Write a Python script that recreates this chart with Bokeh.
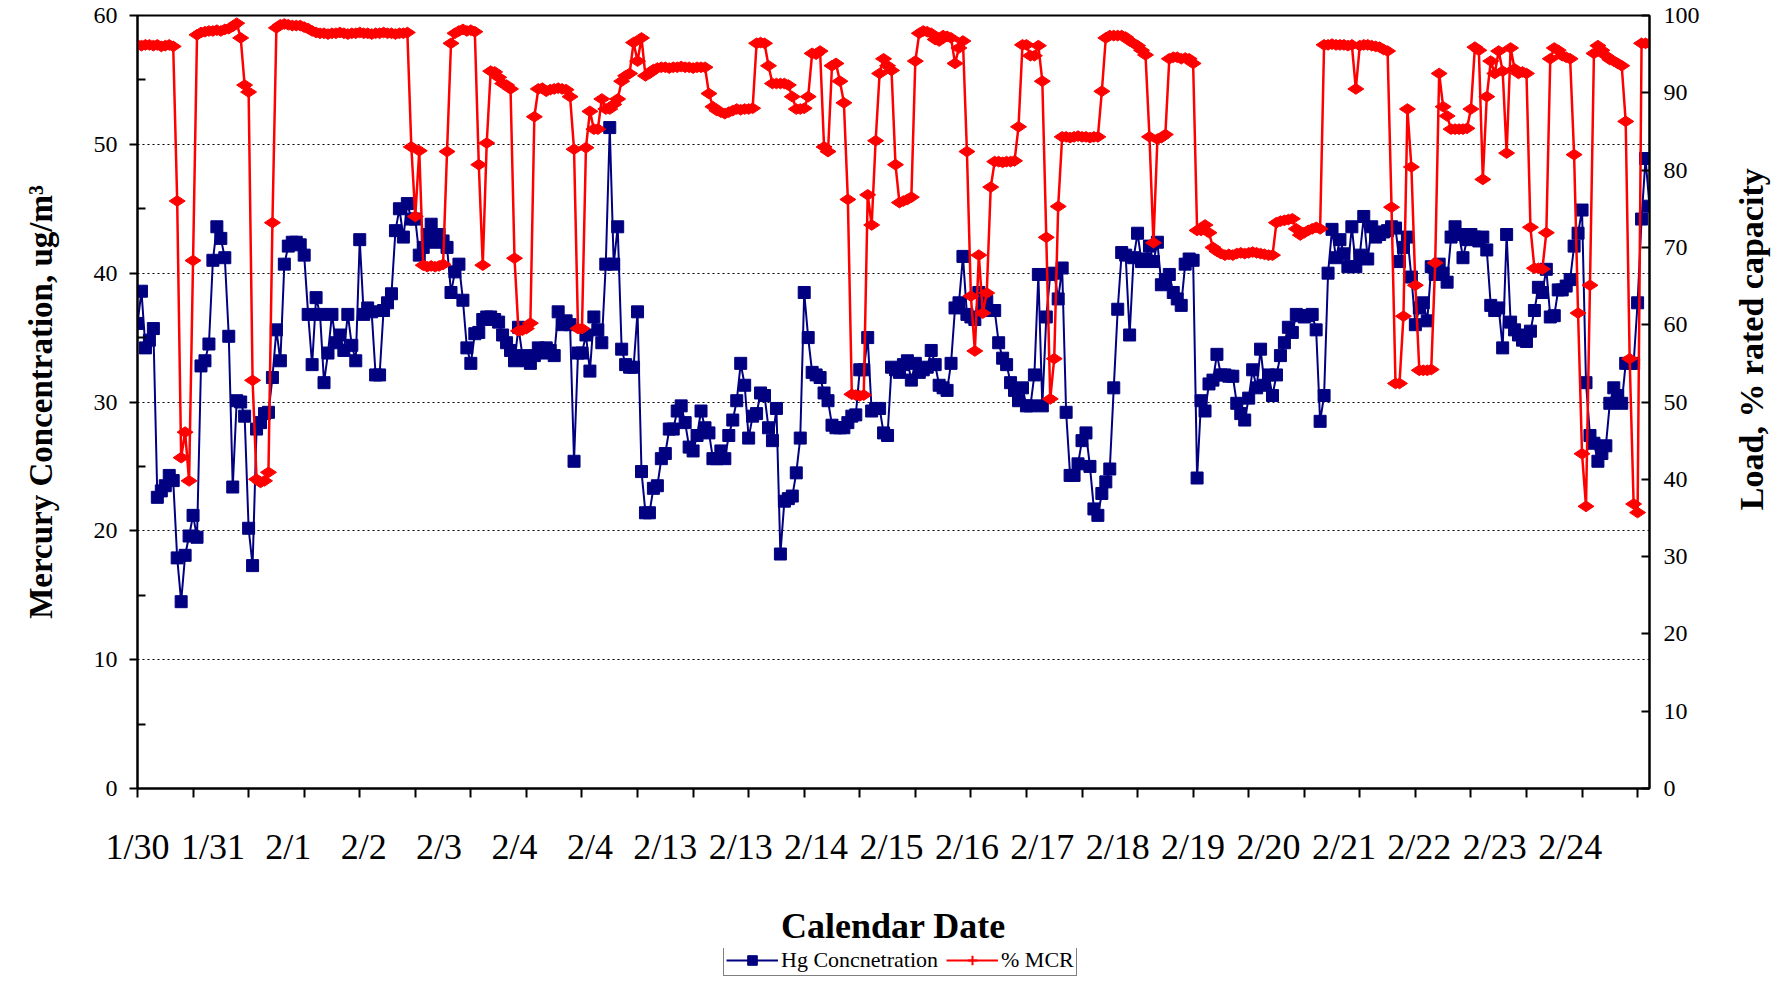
import numpy as np
from bokeh.plotting import figure
from bokeh.layouts import column, row
from bokeh.models import (Range1d, LinearAxis, FixedTicker, Legend, LegendItem,
                          ColumnDataSource, Grid, Label)
from bokeh.embed import file_html
from bokeh.resources import INLINE

date_labels = ["1/30", "1/31", "2/1", "2/2", "2/3", "2/4", "2/4", "2/13", "2/13", "2/14",
               "2/15", "2/16", "2/17", "2/18", "2/19", "2/20", "2/21", "2/22", "2/23", "2/24"]

hg = [
    36.1, 38.6, 34.2, 34.8, 35.7, 22.6, 23.1, 23.5, 24.3, 23.9,
    17.9, 14.5, 18.1, 19.6, 21.2, 19.5, 32.8, 33.2, 34.5, 41.0,
    43.6, 42.7, 41.2, 35.1, 23.4, 30.1, 30.0, 28.9, 20.2, 17.3,
    27.9, 28.4, 29.1, 29.2, 31.9, 35.6, 33.2, 40.7, 42.1, 42.4,
    42.4, 42.2, 41.4, 36.8, 32.9, 38.1, 36.8, 31.5, 33.8, 36.8,
    34.6, 35.2, 34.0, 36.8, 34.4, 33.2, 42.6, 36.8, 37.3, 37.0,
    32.1, 32.1, 37.1, 37.7, 38.4, 43.3, 45.0, 42.8, 45.4, 44.2,
    44.2, 41.4, 42.0, 43.0, 43.8, 42.4, 43.0, 42.5, 42.0, 38.5,
    40.1, 40.7, 37.9, 34.2, 33.0, 35.3, 35.4, 36.4, 36.6, 36.6,
    36.4, 36.2, 35.2, 34.6, 34.0, 33.2, 35.8, 33.6, 33.2, 33.0,
    33.6, 34.2, 33.8, 34.2, 34.0, 33.6, 37.0, 36.0, 36.3, 36.0,
    25.4, 33.8, 33.8, 35.2, 32.4, 36.6, 35.6, 34.6, 40.7, 51.3,
    40.7, 43.6, 34.1, 32.9, 32.7, 32.7, 37.0, 24.6, 21.4, 21.4,
    23.3, 23.5, 25.6, 26.0, 27.9, 27.9, 29.3, 29.7, 28.4, 26.5,
    26.2, 27.4, 29.3, 28.0, 27.6, 25.6, 25.6, 26.2, 25.6, 27.4,
    28.6, 30.1, 33.0, 31.3, 27.2, 28.9, 29.1, 30.7, 30.5, 28.0,
    27.0, 29.5, 18.2, 22.3, 22.5, 22.7, 24.5, 27.2, 38.5, 35.0,
    32.3, 32.1, 31.9, 30.7, 30.1, 28.2, 28.0, 28.0, 28.0, 28.4,
    28.9, 29.0, 32.5, 32.5, 35.0, 29.3, 29.5, 29.5, 27.6, 27.4,
    32.7, 32.5, 32.3, 32.9, 33.2, 31.7, 33.0, 32.3, 32.5, 32.7,
    34.0, 32.9, 31.3, 31.1, 30.9, 33.0, 37.3, 37.7, 41.3, 36.8,
    36.6, 36.4, 38.5, 37.5, 37.8, 37.1, 37.1, 34.6, 33.4, 32.9,
    31.5, 30.9, 30.1, 31.1, 29.7, 29.7, 32.1, 39.9, 29.7, 36.6,
    39.9, 40.0, 38.0, 40.4, 29.2, 24.3, 24.3, 25.2, 27.0, 27.6,
    25.0, 21.7, 21.2, 22.9, 23.8, 24.8, 31.1, 37.2, 41.6, 41.4,
    35.2, 41.2, 43.1, 40.9, 41.1, 42.1, 40.9, 42.4, 39.1, 39.5,
    39.9, 38.5, 38.0, 37.5, 40.7, 41.1, 41.0, 24.1, 30.1, 29.3,
    31.4, 31.7, 33.7, 32.1, 32.1, 32.0, 32.0, 29.9, 29.1, 28.6,
    30.3, 32.5, 31.1, 34.1, 31.3, 32.1, 30.5, 32.1, 33.6, 34.6,
    35.8, 35.4, 36.8, 36.7, 36.6, 36.7, 36.8, 35.6, 28.5, 30.5,
    40.0, 43.4, 41.2, 42.6, 41.5, 40.5, 43.6, 40.5, 41.4, 44.4,
    41.1, 43.6, 42.8, 43.0, 43.2, 43.3, 43.6, 43.5, 40.9, 42.0,
    42.8, 39.7, 36.0, 37.3, 37.7, 36.3, 40.5, 39.9, 40.7, 40.0,
    39.3, 42.8, 43.6, 43.0, 41.2, 42.6, 43.0, 42.8, 42.5, 42.8,
    41.8, 37.5, 37.1, 37.3, 34.2, 43.0, 36.2, 35.6, 35.2, 34.8,
    34.7, 35.5, 37.1, 38.9, 38.5, 40.3, 36.6, 36.7, 38.7, 38.7,
    39.0, 39.5, 42.1, 43.1, 44.9, 31.5, 27.4, 26.8, 25.4, 26.0,
    26.6, 29.9, 31.1, 30.5, 29.9, 33.0, 33.0, 33.0, 37.7, 44.2,
    48.9, 45.2,
]

mcr = [
    96.2, 96.1, 96.2, 96.2, 96.1, 96.2, 96.0, 96.1, 96.2, 96.0,
    76.0, 42.8, 46.1, 39.8, 68.3, 97.5, 97.8, 97.9, 98.0, 98.0,
    98.1, 98.0, 98.2, 98.3, 98.6, 99.0, 97.1, 91.0, 90.1, 52.8,
    40.0, 39.6, 39.8, 40.9, 73.2, 98.4, 98.8, 98.9, 98.8, 98.7,
    98.7, 98.7, 98.5, 98.3, 98.0, 97.8, 97.7, 97.7, 97.6, 97.7,
    97.7, 97.8, 97.7, 97.6, 97.7, 97.7, 97.8, 97.7, 97.7, 97.6,
    97.7, 97.7, 97.8, 97.7, 97.7, 97.6, 97.7, 97.7, 97.8, 83.0,
    74.0, 82.5, 67.7, 67.5, 67.6, 67.5, 67.6, 67.8, 82.4, 96.4,
    97.7, 98.0, 98.2, 98.0, 98.1, 97.9, 80.7, 67.7, 83.5, 92.8,
    92.7, 92.0, 91.2, 91.0, 90.5, 68.6, 59.2, 59.3, 59.5, 60.2,
    86.9, 90.5, 90.6, 90.2, 90.4, 90.5, 90.6, 90.5, 90.4, 89.5,
    82.7, 59.5, 59.5, 82.9, 87.6, 85.3, 85.3, 89.2, 87.9, 87.9,
    88.5, 89.2, 91.5, 92.2, 92.5, 96.5, 94.1, 97.1, 92.2, 92.5,
    93.0, 93.2, 93.3, 93.3, 93.2, 93.3, 93.3, 93.4, 93.3, 93.3,
    93.2, 93.3, 93.3, 93.3, 89.9, 88.2, 87.7, 87.5, 87.3, 87.5,
    87.7, 87.9, 87.8, 87.9, 87.9, 88.0, 96.4, 96.5, 96.4, 93.5,
    91.2, 91.2, 91.2, 91.2, 91.0, 89.5, 87.9, 87.9, 88.0, 89.5,
    95.1, 95.0, 95.4, 83.0, 82.4, 93.5, 93.8, 91.5, 88.7, 76.2,
    51.0, 50.9, 50.8, 50.9, 76.8, 72.9, 83.8, 92.5, 94.4, 93.5,
    92.9, 80.7, 75.8, 76.0, 76.2, 76.5, 94.1, 97.7, 98.0, 97.9,
    97.7, 96.9, 96.7, 97.4, 97.3, 97.1, 93.8, 95.8, 96.7, 82.4,
    63.7, 56.6, 69.0, 61.5, 64.1, 77.8, 81.1, 81.1, 81.0, 81.1,
    81.1, 81.2, 85.6, 96.2, 96.2, 94.8, 94.8, 96.1, 91.5, 71.3,
    50.4, 55.6, 75.3, 84.3, 84.3, 84.2, 84.3, 84.4, 84.3, 84.3,
    84.2, 84.3, 84.3, 90.2, 97.1, 97.4, 97.4, 97.4, 97.4, 97.2,
    96.7, 96.4, 96.1, 95.5, 94.9, 84.3, 70.6, 84.0, 84.2, 84.6,
    94.4, 94.6, 94.6, 94.4, 94.5, 94.4, 93.8, 72.2, 72.2, 72.9,
    71.9, 70.0, 69.5, 69.2, 69.0, 69.1, 69.0, 69.2, 69.3, 69.2,
    69.3, 69.4, 69.3, 69.2, 69.1, 69.0, 69.0, 73.2, 73.4, 73.5,
    73.6, 73.7, 72.4, 71.6, 71.9, 72.2, 72.4, 72.6, 72.4, 96.2,
    96.2, 96.3, 96.2, 96.2, 96.2, 96.1, 96.2, 90.5, 96.1, 96.2,
    96.2, 96.1, 96.0, 95.9, 95.6, 95.4, 75.2, 52.4, 52.4, 61.1,
    87.9, 80.4, 65.1, 54.1, 54.1, 54.1, 54.2, 68.0, 92.5, 88.2,
    87.0, 85.3, 85.3, 85.3, 85.3, 85.4, 87.9, 95.9, 95.5, 78.8,
    89.5, 94.1, 92.5, 95.4, 92.8, 82.2, 95.8, 93.1, 92.5, 92.7,
    92.5, 72.6, 67.3, 67.3, 67.2, 71.9, 94.4, 95.8, 95.5, 94.8,
    94.6, 94.4, 82.0, 61.5, 43.3, 36.5, 65.1, 95.1, 96.1, 95.5,
    94.8, 94.3, 94.1, 93.8, 93.5, 86.3, 55.6, 36.8, 35.7, 96.4,
    96.4, 96.4,
]

n = len(hg)
xs = list(range(n))
LABEL_STEP = 19
TICK_STEP = 14
label_pos = [LABEL_STEP * k for k in range(len(date_labels))]
tick_pos = list(range(0, n, TICK_STEP))

FONT = "Liberation Serif"
NAVY = "#000080"
RED = "#FF0000"

TOTAL_W, TOTAL_H = 1771, 978
MAIN_W, MAIN_H = 1705, 948
SIDE_W = TOTAL_W - MAIN_W
LEG_H = TOTAL_H - MAIN_H

p = figure(width=MAIN_W, height=MAIN_H, output_backend="svg", toolbar_location=None,
           x_range=Range1d(0, n - 1), y_range=Range1d(0, 60),
           x_axis_location=None, y_axis_location=None,
           min_border_left=137, min_border_right=MAIN_W - 137 - 1512,
           min_border_top=15, min_border_bottom=MAIN_H - 15 - 774)
p.extra_y_ranges = {"load": Range1d(0, 100)}
p.outline_line_color = "black"
p.outline_line_width = 2
p.background_fill_color = "white"
for g in p.grid:
    g.visible = False

# bottom axis
xaxis = LinearAxis(ticker=FixedTicker(ticks=label_pos, minor_ticks=tick_pos))
xaxis.major_label_overrides = {pos: lab for pos, lab in zip(label_pos, date_labels)}
xaxis.major_tick_line_color = None
xaxis.major_tick_out = 0
xaxis.major_tick_in = 0
xaxis.minor_tick_line_color = "black"
xaxis.minor_tick_line_width = 2
xaxis.minor_tick_out = 9
xaxis.minor_tick_in = 0
xaxis.axis_line_width = 2
xaxis.major_label_standoff = 29
xaxis.major_label_text_font = FONT
xaxis.major_label_text_font_size = "36px"
xaxis.major_label_text_color = "black"
xaxis.axis_label = "Calendar Date"
xaxis.axis_label_text_font = FONT
xaxis.axis_label_text_font_size = "36px"
xaxis.axis_label_text_font_style = "bold"
xaxis.axis_label_text_color = "black"
xaxis.axis_label_standoff = 36
p.add_layout(xaxis, "below")

# left axis
yaxis = LinearAxis(ticker=FixedTicker(ticks=list(range(0, 61, 10)),
                                      minor_ticks=list(range(5, 60, 10))))
yaxis.major_tick_out = 8
yaxis.major_tick_in = 0
yaxis.minor_tick_in = 8
yaxis.minor_tick_out = 0
yaxis.major_tick_line_width = 2
yaxis.minor_tick_line_width = 2
yaxis.axis_line_width = 2
yaxis.major_label_standoff = 12
yaxis.major_label_text_font = FONT
yaxis.major_label_text_font_size = "24px"
yaxis.major_label_text_color = "black"
yaxis.axis_label = "Mercury Concentration, ug/m\u00b3"
yaxis.axis_label_text_font = FONT
yaxis.axis_label_text_font_size = "33px"
yaxis.axis_label_text_font_style = "bold"
yaxis.axis_label_text_color = "black"
yaxis.axis_label_standoff = 32
p.add_layout(yaxis, "left")

# right axis
raxis = LinearAxis(y_range_name="load",
                   ticker=FixedTicker(ticks=list(range(0, 101, 10)), minor_ticks=[]))
raxis.major_tick_in = 8
raxis.major_tick_out = 0
raxis.major_tick_line_width = 2
raxis.minor_tick_line_color = None
raxis.axis_line_width = 2
raxis.major_label_standoff = 14
raxis.major_label_text_font = FONT
raxis.major_label_text_font_size = "24px"
raxis.major_label_text_color = "black"
p.add_layout(raxis, "right")

grid = Grid(dimension=1, ticker=FixedTicker(ticks=[10, 20, 30, 40, 50]))
grid.grid_line_color = "black"
grid.grid_line_dash = "2 3"
grid.grid_line_width = 1
p.add_layout(grid)

src = ColumnDataSource(dict(x=xs, hg=hg, mcr=mcr))
p.line("x", "hg", source=src, line_color=NAVY, line_width=2)
p.scatter("x", "hg", source=src, marker="square", size=12,
          fill_color=NAVY, line_color=NAVY)
p.line("x", "mcr", source=src, y_range_name="load", line_color=RED, line_width=2.5)
p.scatter("x", "mcr", source=src, y_range_name="load", marker="diamond", size=16,
          angle=np.pi / 2, fill_color=RED, line_color=RED)

# right-hand title panel (reads bottom-to-top like the reference)
side = figure(width=SIDE_W, height=MAIN_H, output_backend="svg", toolbar_location=None,
              x_range=Range1d(0, SIDE_W), y_range=Range1d(0, MAIN_H),
              x_axis_location=None, y_axis_location=None, min_border=0)
side.outline_line_color = None
for g in side.grid:
    g.visible = False
side.add_layout(Label(x=46, y=MAIN_H - 397, text="Load, % rated capacity", angle=np.pi / 2,
                      text_align="center", text_baseline="middle", text_font=FONT,
                      text_font_size="34px", text_font_style="bold", text_color="black"))

# legend panel
leg = figure(width=TOTAL_W, height=LEG_H, output_backend="svg", toolbar_location=None,
             x_range=Range1d(0, TOTAL_W), y_range=Range1d(0, LEG_H),
             x_axis_location=None, y_axis_location=None, min_border=0)
leg.outline_line_color = None
for g in leg.grid:
    g.visible = False
dummy = ColumnDataSource(dict(x=[-1000], y=[-1000]))
l1 = leg.line("x", "y", source=dummy, line_color=NAVY, line_width=2)
s1 = leg.scatter("x", "y", source=dummy, marker="square", size=12,
                 fill_color=NAVY, line_color=NAVY)
l2 = leg.line("x", "y", source=dummy, line_color=RED, line_width=2)
s2 = leg.scatter("x", "y", source=dummy, marker="cross", size=16,
                 line_color=RED, line_width=2)
legend = Legend(items=[LegendItem(label="Hg Concnetration", renderers=[l1, s1]),
                       LegendItem(label="% MCR", renderers=[l2, s2])],
                orientation="horizontal", location=(723, 2))
legend.label_text_font = FONT
legend.label_text_font_size = "22px"
legend.label_text_color = "black"
legend.border_line_color = "black"
legend.border_line_width = 1.5
legend.padding = 2
legend.spacing = 8
legend.margin = 0
legend.glyph_width = 52
legend.glyph_height = 24
legend.label_height = 24
legend.label_standoff = 3
legend.background_fill_alpha = 1.0
leg.add_layout(legend)

layout = column(row(p, side), leg)
open("out.html", "w").write(file_html(layout, INLINE))
